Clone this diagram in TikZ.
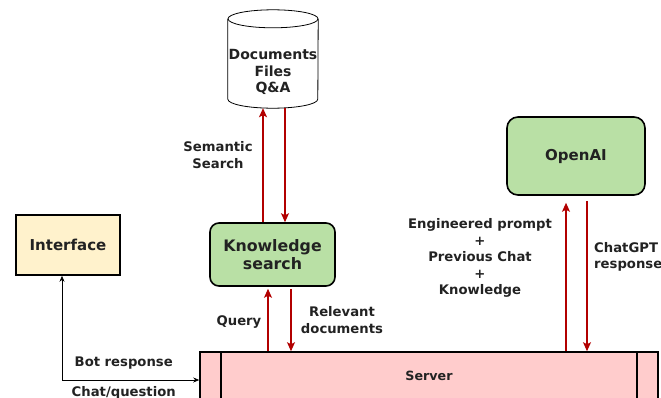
\documentclass[tikz,border=0pt]{standalone}
\usepackage{fontspec}
\setmainfont{DejaVu Sans}
\usetikzlibrary{arrows.meta}
\definecolor{boxgreen}{HTML}{B9E0A5}
\definecolor{boxyellow}{HTML}{FFF2CC}
\definecolor{boxpink}{HTML}{FFCCCC}
\definecolor{arrowred}{HTML}{B20000}
\definecolor{textgray}{HTML}{222222}
\begin{document}
\begin{tikzpicture}[x=1pt,y=-1pt,
    box/.style={draw,line width=1.6pt,align=center,inner sep=0pt,text=textgray,
      font=\bfseries\fontsize{15}{18}\selectfont},
    link/.style={draw=arrowred,line width=1.3pt,-{Stealth[length=9pt,width=8pt,inset=2pt]}},
    lbl/.style={align=center,text=textgray,inner sep=0pt,
      font=\bfseries\fontsize{13.2}{16.5}\selectfont}]

        \useasboundingbox (0,0) rectangle (661,397);

        % blocks
        \node[minimum width=90pt,minimum height=98pt,inner sep=0pt] (db) at (273,59) {};
        \draw[line width=0.8pt,fill=white]
          ([yshift=-9pt]db.north west) -- ([yshift=9pt]db.south west)
          arc[start angle=180,end angle=360,x radius=45pt,y radius=9pt]
          -- ([yshift=-9pt]db.north east);
        \draw[line width=0.8pt] ([yshift=-9pt]db.north) ellipse[x radius=45pt,y radius=9pt];
        \node[lbl,font=\bfseries\fontsize{14}{16.5}\selectfont] (dbtext) at (273,72) {Documents\\Files\\Q\&A};
        \node[box,rounded corners=9pt,fill=boxgreen,minimum width=125pt,minimum height=63pt,
          font=\bfseries\fontsize{15.8}{18}\selectfont] (ks) at (272.5,254.5) {Knowledge\\search};
        \node[box,rounded corners=11pt,fill=boxgreen,minimum width=138pt,minimum height=78pt] (oai) at (576,156) {OpenAI};
        \node[box,fill=boxyellow,minimum width=104pt,minimum height=60pt] (ui) at (68,245) {Interface};
        \node[box,fill=boxpink,minimum width=458pt,minimum height=48pt,
          font=\bfseries\fontsize{12.7}{15}\selectfont] (srv) at (429,376) {Server};
        \draw[line width=1.6pt] ([xshift=22pt]srv.north west) -- ([xshift=22pt]srv.south west);
        \draw[line width=1.6pt] ([xshift=-22pt]srv.north east) -- ([xshift=-22pt]srv.south east);

        % x positions of the arrows
        \coordinate (c1) at (263,0);
        \coordinate (c2) at (285,0);
        \coordinate (c3) at (268,0);
        \coordinate (c4) at (291,0);
        \coordinate (c5) at (566,0);
        \coordinate (c6) at (587,0);
        \coordinate (bend) at (62,380);

        \begin{scope}[every edge/.style={link}]
          \path (ks.north -| c1) edge (db.south -| c1);
          \path (db.south -| c2) edge (ks.north -| c2);
          \path (srv.north -| c3) edge ([yshift=-2pt]ks.south -| c3);
          \path ([yshift=-2pt]ks.south -| c4) edge (srv.north -| c4);
          \path (srv.north -| c5) edge ([yshift=-7pt]oai.south -| c5);
          \path ([yshift=-5pt]oai.south -| c6) edge (srv.north -| c6);
        \end{scope}

        \draw[line width=0.7pt,{Stealth[length=6pt,width=5pt]}-{Stealth[length=6pt,width=5pt]}]
          (ui.south -| bend) -- (bend) -- node[lbl,pos=0.45,above=10pt] {Bot response}
          node[lbl,pos=0.45,below=6pt] {Chat/question} (srv.west |- bend);

        % labels
        \node[lbl] (sem) at (218,155) {Semantic\\Search};
        \node[lbl] (qry) at (239,322) {Query};
        \node[lbl] (rel) at (342,320) {Relevant\\documents};
        \node[lbl] (eng) at (480,258) {Engineered prompt\\+\\Previous Chat\\+\\Knowledge};
        \node[lbl,anchor=west,align=left] (gpt) at (594,257) {ChatGPT\\response};

      \end{tikzpicture}
\end{document}
